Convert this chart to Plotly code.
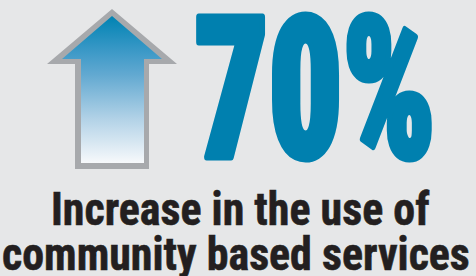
import plotly.graph_objects as go

# ---- data ----
increase_pct = [70]
caption_lines = ["Increase in the use of", "community based services"]

W, H = 476, 276
BG = "#E6E7E8"
BLUE = "#0080AF"
GRAY = "#A7A9AC"

def flip(y):
    return H - y

# arrow geometry (image px)
outer = [(112, 9), (177, 64), (149, 64), (149, 169), (75, 169), (75, 64), (47, 64), (112, 9)]
inner = [(112, 16), (162, 59), (144, 59), (144, 163), (81, 163), (81, 59), (62, 59), (112, 16)]

fig = go.Figure()
fig.add_trace(go.Scatter(
    x=[p[0] for p in outer], y=[flip(p[1]) for p in outer],
    mode="lines", line=dict(width=0, color=GRAY), fill="toself", fillcolor=GRAY,
    hoverinfo="skip", showlegend=False))
fig.add_trace(go.Scatter(
    x=[p[0] for p in inner], y=[flip(p[1]) for p in inner],
    mode="lines", line=dict(width=0, color=GRAY), fill="toself",
    fillgradient=dict(type="vertical",
                      colorscale=[[0, "#F7F9FB"], [0.3, "#B2D2E7"], [0.6, "#62A9D1"], [0.75, "#3E9AC8"], [1, "#0083B3"]]),
    hoverinfo="skip", showlegend=False))

big = f"{increase_pct[0]}%"
fig.add_annotation(x=315, y=flip(89), text=big, showarrow=False, xanchor="center", yanchor="middle",
                   font=dict(family="Roboto Condensed, sans-serif", size=197, color=BLUE, weight=900))

for line, (cx, cy) in zip(caption_lines, [(239.5, 209), (236, 254)]):
    fig.add_annotation(x=cx, y=flip(cy), text=line, showarrow=False, xanchor="center", yanchor="middle",
                       font=dict(family="Roboto Condensed, sans-serif", size=46, color="#231F20", weight="bold"))

fig.update_layout(
    width=W, height=H, margin=dict(l=0, r=0, t=0, b=0),
    paper_bgcolor=BG, plot_bgcolor=BG,
    xaxis=dict(range=[0, W], visible=False, fixedrange=True),
    yaxis=dict(range=[0, H], visible=False, fixedrange=True),
    showlegend=False,
)

post = """
document.body.style.margin='0';
var gd = document.getElementById('{plot_id}');
var t = gd.querySelector('.annotation[data-index="0"] text');
if (t) { t.style.transformBox='fill-box'; t.style.transformOrigin='center'; t.style.transform='scaleX(0.735)';
         t.style.stroke='#0080AF'; t.style.strokeWidth='7px'; t.style.strokeLinejoin='round'; }
gd.querySelectorAll('.annotation[data-index="1"] text, .annotation[data-index="2"] text').forEach(function(c){
  c.style.transformBox='fill-box'; c.style.transformOrigin='center'; c.style.transform='scaleX(0.955)';
  c.style.stroke='#231F20'; c.style.strokeWidth='0.6px';
});
"""
fig.write_html("out.html", config={"displayModeBar": False, "staticPlot": True}, post_script=post)
